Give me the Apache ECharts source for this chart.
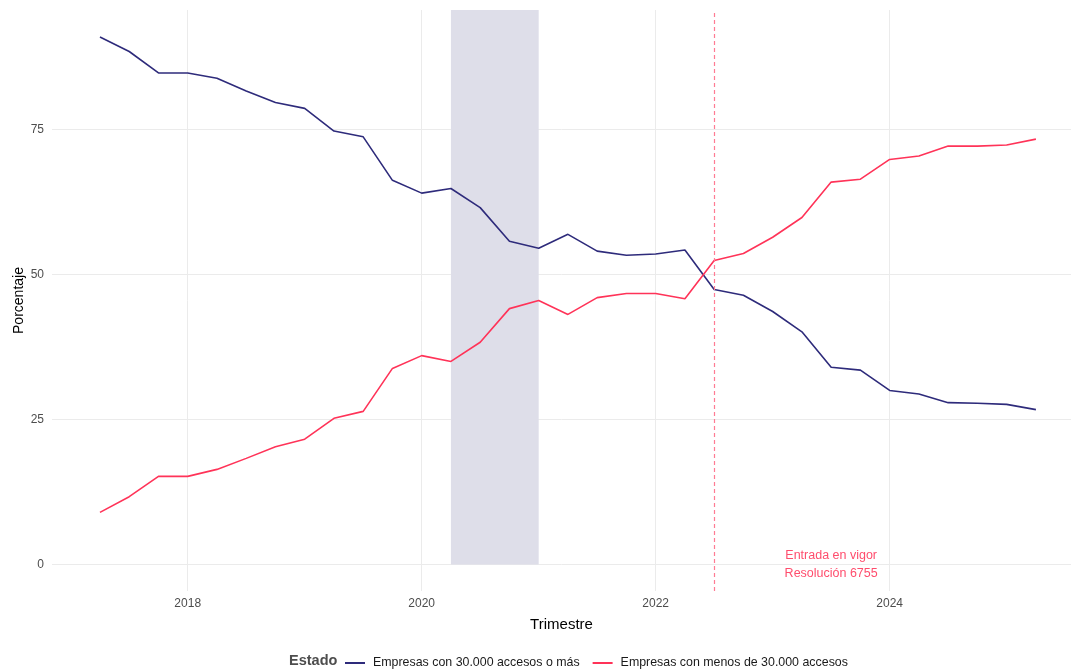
<!DOCTYPE html>
<html>
<head>
<meta charset="utf-8">
<script src="https://cdn.jsdelivr.net/npm/echarts@6/dist/echarts.min.js"></script>
<style>
  html, body { margin: 0; background: #fff; }
  #chart { width: 1071px; height: 671px; }
</style>
</head>
<body>
<div id="chart"></div>
<script>
// trimestres (año-mes de inicio)
const trimestres = [
  '2017-04', '2017-07', '2017-10',
  '2018-01', '2018-04', '2018-07', '2018-10',
  '2019-01', '2019-04', '2019-07', '2019-10',
  '2020-01', '2020-04', '2020-07', '2020-10',
  '2021-01', '2021-04', '2021-07', '2021-10',
  '2022-01', '2022-04', '2022-07', '2022-10',
  '2023-01', '2023-04', '2023-07', '2023-10',
  '2024-01', '2024-04', '2024-07', '2024-10',
  '2025-01', '2025-04'
];
const grandes = [90.9, 88.4, 84.7, 84.7, 83.8, 81.6, 79.6, 78.6, 74.7, 73.7, 66.2, 64.0, 64.8,
  61.5, 55.7, 54.5, 56.9, 54.0, 53.3, 53.5, 54.2, 47.4, 46.4, 43.6, 40.1, 34.0, 33.5,
  30.0, 29.4, 27.9, 27.8, 27.6, 26.7];
const pequenas = [9.0, 11.7, 15.2, 15.2, 16.4, 18.3, 20.3, 21.6, 25.2, 26.4, 33.8, 36.0, 35.0,
  38.3, 44.1, 45.5, 43.1, 46.0, 46.7, 46.7, 45.8, 52.4, 53.6, 56.4, 59.8, 65.9, 66.4,
  69.8, 70.4, 72.1, 72.1, 72.3, 73.3];
const xTicks = [2018, 2020, 2022, 2024];
const yTicks = [0, 25, 50, 75];
const sombraInicio = 2020.25, sombraFin = 2021.0;   // periodo sombreado
const fechaResolucion = 2022.5;                      // entrada en vigor
const notaPos = [2023.5, 0];

// año decimal
const xs = trimestres.map(t => {
  const [y, m] = t.split('-').map(Number);
  return y + (m - 1) / 12;
});
const serieGrandes = xs.map((x, i) => [x, grandes[i]]);
const seriePequenas = xs.map((x, i) => [x, pequenas[i]]);

const FONT = 'Liberation Sans, Arial, sans-serif';
const yMin = -4.55, yMax = 95.55;

var myChart = echarts.init(document.getElementById('chart'));
myChart.setOption({
  animation: false,
  textStyle: { fontFamily: FONT },
  grid: { left: 52, right: 0, top: 10, bottom: 80, outerBoundsMode: 'none', containLabel: false },
  legend: {
    left: 340, top: 652,
    itemWidth: 20, itemHeight: 2, itemGap: 13,
    icon: 'rect',
    textStyle: { fontSize: 12.4, color: '#1a1a1a', fontFamily: FONT, padding: [0, 0, 0, 3] },
    data: ['Empresas con 30.000 accesos o más', 'Empresas con menos de 30.000 accesos']
  },
  graphic: [{
    type: 'text', left: 289, top: 653,
    style: { text: 'Estado', font: 'bold 14.5px ' + FONT, fill: '#4d4d4d' }
  }],
  xAxis: {
    type: 'value', min: 2016.84, max: 2025.55,
    name: 'Trimestre', nameLocation: 'middle', nameGap: 26, nameMoveOverlap: false,
    nameTextStyle: { fontSize: 15, color: '#000' },
    axisLine: { show: false },
    axisTick: { show: false, customValues: xTicks },
    axisLabel: { customValues: xTicks, color: '#4d4d4d', fontSize: 12, margin: 7, formatter: v => String(v) },
    splitLine: { show: true, lineStyle: { color: '#ebebeb', width: 1 } }
  },
  yAxis: {
    type: 'value', min: yMin, max: yMax,
    name: 'Porcentaje', nameLocation: 'middle', nameGap: 26, nameMoveOverlap: false,
    nameTextStyle: { fontSize: 14, color: '#000' },
    axisLine: { show: false },
    axisTick: { show: false, customValues: yTicks },
    axisLabel: { customValues: yTicks, color: '#4d4d4d', fontSize: 12, margin: 8 },
    splitLine: { show: true, lineStyle: { color: '#ebebeb', width: 1 } }
  },
  series: [
    {
      name: 'Empresas con 30.000 accesos o más',
      type: 'line', data: serieGrandes, showSymbol: false, z: 3,
      color: '#2e2b7b',
      lineStyle: { width: 1.6, color: '#2e2b7b' },
      markArea: {
        silent: true,
        itemStyle: { color: '#dedee9' },
        data: [[{ xAxis: sombraInicio, yAxis: 0 }, { xAxis: sombraFin, yAxis: yMax }]]
      }
    },
    {
      name: 'Empresas con menos de 30.000 accesos',
      type: 'line', data: seriePequenas, showSymbol: false, z: 3,
      color: '#ff3358',
      lineStyle: { width: 1.6, color: '#ff3358' },
      markLine: {
        silent: true, symbol: 'none',
        label: { show: false },
        lineStyle: { type: [4, 3], color: '#ff7b93', width: 1.2 },
        data: [{ xAxis: fechaResolucion }]
      },
      markPoint: {
        silent: true, symbolSize: 0,
        label: {
          show: true, position: 'inside',
          formatter: 'Entrada en vigor\nResolución 6755',
          color: '#ff4d6d', fontSize: 12.5, lineHeight: 18, fontFamily: FONT
        },
        data: [{ coord: notaPos }]
      }
    }
  ]
});
</script>
</body>
</html>
